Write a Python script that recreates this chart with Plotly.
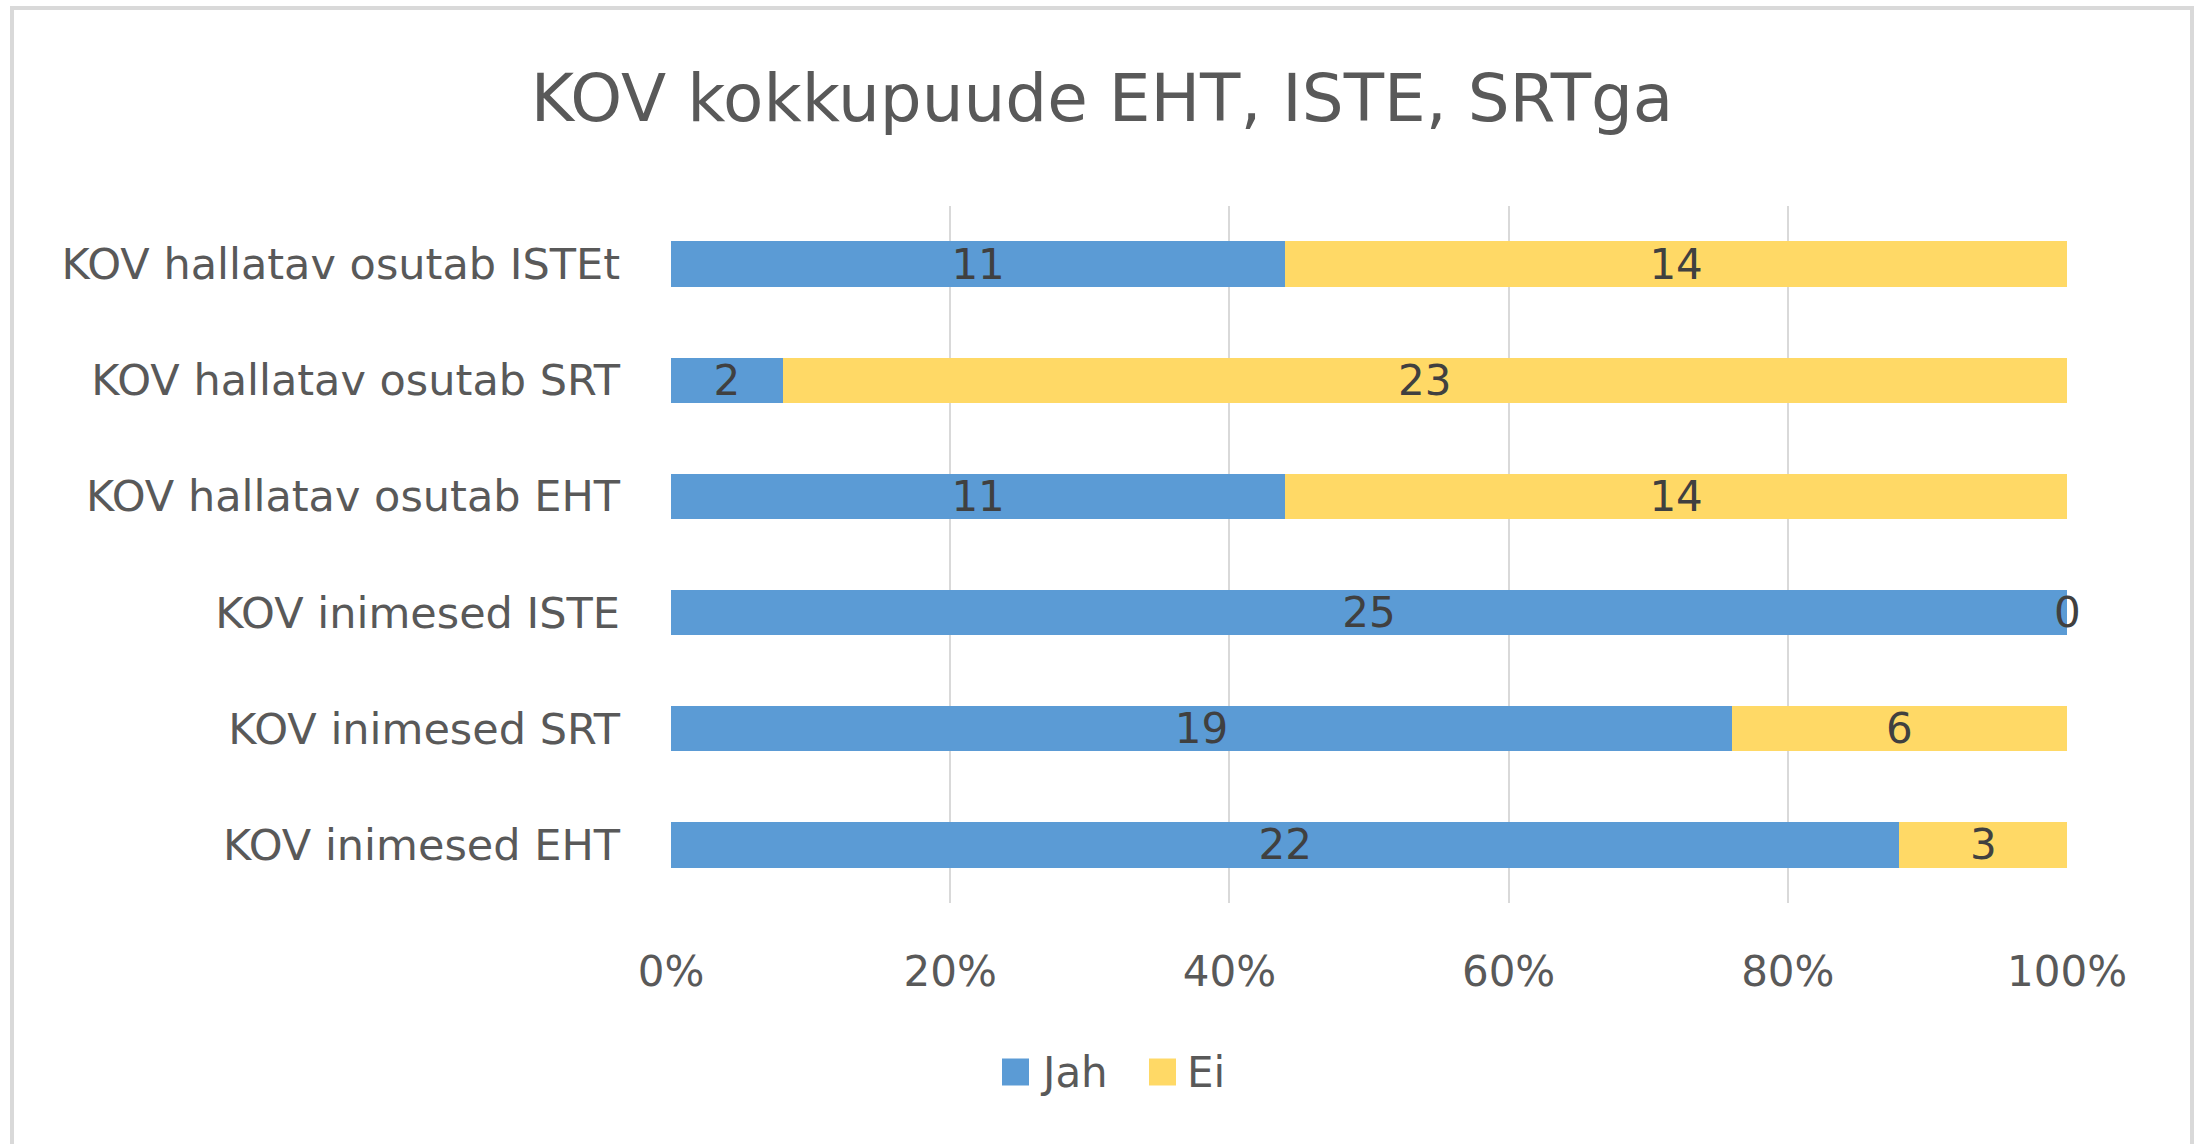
import plotly.graph_objects as go

categories = [
    "KOV inimesed EHT",
    "KOV inimesed SRT",
    "KOV inimesed ISTE",
    "KOV hallatav osutab EHT",
    "KOV hallatav osutab SRT",
    "KOV hallatav osutab ISTEt",
]
series_names = ["Jah", "Ei"]
jah = [22, 19, 25, 11, 2, 11]
ei = [3, 6, 0, 14, 23, 14]
x_ticks = [0, 20, 40, 60, 80, 100]
x_tick_labels = ["0%", "20%", "40%", "60%", "80%", "100%"]

BLUE = "#5B9BD5"
YELLOW = "#FFD966"
GRAY = "#595959"
LABEL = "#404040"
FONT = "DejaVu Sans"

W, H = 2196, 1144
L, R, T, B = 671, 129, 206, 241

totals = [a + b for a, b in zip(jah, ei)]
jah_pct = [a / t * 100 for a, t in zip(jah, totals)]
ei_pct = [b / t * 100 for b, t in zip(ei, totals)]

fig = go.Figure()
for name, vals, pct, color in ((series_names[0], jah, jah_pct, BLUE),
                               (series_names[1], ei, ei_pct, YELLOW)):
    fig.add_trace(go.Bar(
        y=categories, x=pct, orientation="h", name=name,
        marker=dict(color=color, line=dict(width=0)),
        text=[str(v) if v else "" for v in vals],
        textposition="inside", insidetextanchor="middle", constraintext="none",
        textangle=0,
        textfont=dict(family=FONT, size=42, color=LABEL),
        hoverinfo="skip", showlegend=False,
    ))

# zero-value labels sit at the segment boundary
for cat, a, b, pa in zip(categories, jah, ei, jah_pct):
    if b == 0:
        fig.add_annotation(x=pa, y=cat, text=str(b), showarrow=False,
                           xanchor="center", yanchor="middle",
                           font=dict(family=FONT, size=42, color=LABEL))
    if a == 0:
        fig.add_annotation(x=0, y=cat, text=str(a), showarrow=False,
                           xanchor="center", yanchor="middle",
                           font=dict(family=FONT, size=42, color=LABEL))

pw = W - L - R
ph = H - T - B
def px_x(p):
    return (p - L) / pw
def px_y(p):
    return (H - B - p) / ph

# outer chart frame
fig.add_shape(type="rect", xref="paper", yref="paper",
              x0=px_x(12), x1=px_x(2192), y0=px_y(H + 30), y1=px_y(8),
              line=dict(color="#D9D9D9", width=4), fillcolor="rgba(0,0,0,0)",
              layer="below")

# legend (square keys + labels)
legend_y = 1072
key = 27
for name, color, kx in zip(series_names, (BLUE, YELLOW), (1002, 1149)):
    fig.add_shape(type="rect", xref="paper", yref="paper",
                  x0=px_x(kx), x1=px_x(kx + key),
                  y0=px_y(legend_y + key / 2), y1=px_y(legend_y - key / 2),
                  line=dict(width=0), fillcolor=color)
    fig.add_annotation(xref="paper", yref="paper",
                       x=px_x(kx + key + 9), y=px_y(legend_y),
                       xanchor="left", yanchor="middle", showarrow=False,
                       text=name, font=dict(family=FONT, size=42, color=GRAY))

fig.update_layout(
    width=W, height=H,
    margin=dict(l=L, r=R, t=T, b=B, pad=0),
    paper_bgcolor="white", plot_bgcolor="white",
    barmode="stack", bargap=0.61,
    title=dict(text="KOV kokkupuude EHT, ISTE, SRTga",
               font=dict(family=FONT, size=66, color=GRAY),
               x=1102 / W, xanchor="center", xref="container",
               y=1 - 98 / H, yanchor="middle", yref="container"),
    font=dict(family=FONT, size=42, color=GRAY),
    showlegend=False,
    xaxis=dict(range=[0, 100], tickvals=x_ticks, ticktext=x_tick_labels,
               showgrid=True, gridcolor="#D9D9D9", gridwidth=2,
               zeroline=False, showline=False, ticks="",
               ticklabelstandoff=40,
               tickfont=dict(family=FONT, size=42, color=GRAY),
               fixedrange=True),
    yaxis=dict(categoryorder="array", categoryarray=categories,
               showgrid=False, zeroline=False, showline=False, ticks="",
               ticklabelstandoff=50,
               tickfont=dict(family=FONT, size=43, color=GRAY),
               fixedrange=True),
)

fig.write_html(
    "out.html",
    config={"displayModeBar": False},
    post_script="document.body.style.margin='0';document.body.style.overflow='hidden';",
)
